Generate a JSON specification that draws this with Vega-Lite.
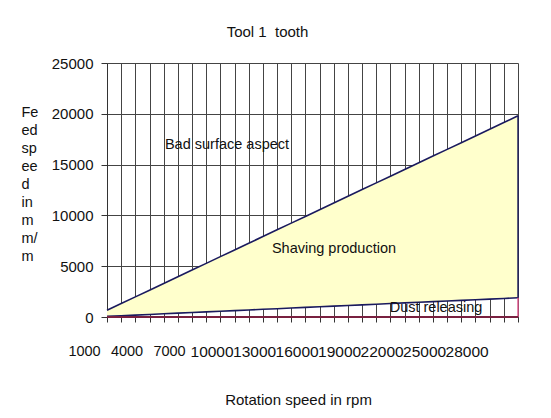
{
  "$schema": "https://vega.github.io/schema/vega-lite/v6.json",
  "width": 411,
  "height": 254,
  "autosize": "none",
  "padding": {"left": 107, "top": 63, "right": 33, "bottom": 101},
  "background": "white",
  "config": {
    "font": "Liberation Sans",
    "view": {"stroke": null},
    "axis": {"labelColor": "#111", "titleColor": "#111", "titleFontWeight": "normal", "gridColor": "#444", "gridOpacity": 1, "gridWidth": 1, "domainColor": "#333", "tickColor": "#333"}
  },
  "title": {"text": "Tool 1\u00a0 tooth", "fontSize": 15, "fontWeight": "normal", "color": "#111", "anchor": "middle", "dx": -45, "offset": 16, "frame": "group"},
  "datasets": {
    "feed": [
      {"rpm": 1000, "lower": 63, "upper": 660},
      {"rpm": 2000, "lower": 126, "upper": 1320},
      {"rpm": 3000, "lower": 189, "upper": 1980},
      {"rpm": 4000, "lower": 252, "upper": 2640},
      {"rpm": 5000, "lower": 315, "upper": 3300},
      {"rpm": 6000, "lower": 378, "upper": 3960},
      {"rpm": 7000, "lower": 441, "upper": 4620},
      {"rpm": 8000, "lower": 504, "upper": 5280},
      {"rpm": 9000, "lower": 567, "upper": 5940},
      {"rpm": 10000, "lower": 630, "upper": 6600},
      {"rpm": 11000, "lower": 693, "upper": 7260},
      {"rpm": 12000, "lower": 756, "upper": 7920},
      {"rpm": 13000, "lower": 819, "upper": 8580},
      {"rpm": 14000, "lower": 882, "upper": 9240},
      {"rpm": 15000, "lower": 945, "upper": 9900},
      {"rpm": 16000, "lower": 1008, "upper": 10560},
      {"rpm": 17000, "lower": 1071, "upper": 11220},
      {"rpm": 18000, "lower": 1134, "upper": 11880},
      {"rpm": 19000, "lower": 1197, "upper": 12540},
      {"rpm": 20000, "lower": 1260, "upper": 13200},
      {"rpm": 21000, "lower": 1323, "upper": 13860},
      {"rpm": 22000, "lower": 1386, "upper": 14520},
      {"rpm": 23000, "lower": 1449, "upper": 15180},
      {"rpm": 24000, "lower": 1512, "upper": 15840},
      {"rpm": 25000, "lower": 1575, "upper": 16500},
      {"rpm": 26000, "lower": 1638, "upper": 17160},
      {"rpm": 27000, "lower": 1701, "upper": 17820},
      {"rpm": 28000, "lower": 1764, "upper": 18480},
      {"rpm": 29000, "lower": 1827, "upper": 19140},
      {"rpm": 30000, "lower": 1890, "upper": 19800}
    ],
    "notes": [
      {"label": "Bad surface aspect", "rpm": 9467, "feed": 16929},
      {"label": "Shaving production", "rpm": 17017, "feed": 6693},
      {"label": "Dust releasing", "rpm": 24214, "feed": 886}
    ]
  },
  "data": {"name": "feed"},
  "encoding": {
    "x": {
      "field": "rpm", "type": "quantitative",
      "scale": {"domain": [1000, 30000], "nice": false, "zero": false},
      "axis": {
        "values": [1000,2000,3000,4000,5000,6000,7000,8000,9000,10000,11000,12000,13000,14000,15000,16000,17000,18000,19000,20000,21000,22000,23000,24000,25000,26000,27000,28000,29000,30000],
        "labelExpr": "((datum.value - 1000) % 3000 === 0 && datum.value <= 28000) ? format(datum.value, 'd') : ''",
        "labelOverlap": false, "labelBound": false, "labelFlush": false,
        "labelFontSize": {"condition": {"test": "datum.value >= 10000", "value": 15.5}, "value": 14.5},
        "labelOffset": -23, "labelPadding": 22, "tickSize": 5,
        "grid": true,
        "title": "Rotation speed in rpm", "titleFontSize": 15,
        "titleX": 191, "titleY": 82, "titleAlign": "center", "titleBaseline": "middle", "titleAnchor": null
      }
    },
    "y": {
      "field": "lower", "type": "quantitative",
      "scale": {"domain": [0, 25000], "nice": false},
      "axis": {
        "values": [0, 5000, 10000, 15000, 20000, 25000],
        "format": "d",
        "labelFontSize": 15, "tickSize": 6, "labelPadding": 8,
        "grid": true,
        "title": ["Fe", "ed", "sp", "ee", "d", "in", "m", "m/", "m"],
        "titleFontSize": 14.5, "titleAngle": 0, "titleAlign": "left", "titleBaseline": "top",
        "titleLineHeight": 18.1, "titleX": -86, "titleY": 42
      }
    }
  },
  "layer": [
    {
      "mark": {"type": "area", "color": "#FFFFCC", "opacity": 1},
      "encoding": {"y2": {"field": "upper"}}
    },
    {
      "mark": {"type": "line", "color": "#1a1a5e", "strokeWidth": 1.6},
      "encoding": {"y": {"field": "upper", "type": "quantitative"}}
    },
    {
      "mark": {"type": "line", "color": "#1a1a5e", "strokeWidth": 1.6}
    },
    {
      "transform": [{"filter": "datum.rpm === 30000"}],
      "mark": {"type": "rule", "color": "#1a1a5e", "strokeWidth": 1.4},
      "encoding": {"y2": {"field": "upper"}}
    },
    {
      "transform": [{"filter": "datum.rpm === 30000"}],
      "mark": {"type": "rule", "color": "#e0508a", "strokeWidth": 1.4},
      "encoding": {"y": {"datum": 0}, "y2": {"field": "lower"}}
    },
    {
      "mark": {"type": "rule", "color": "#7a2040", "strokeWidth": 1.4},
      "encoding": {"x": {"datum": 1000}, "x2": {"datum": 30000}, "y": {"datum": 0}}
    },
    {
      "data": {"name": "notes"},
      "mark": {"type": "text", "fontSize": 14.5, "color": "#111", "align": "center", "baseline": "middle"},
      "encoding": {
        "x": {"field": "rpm", "type": "quantitative"},
        "y": {"field": "feed", "type": "quantitative"},
        "text": {"field": "label"}
      }
    }
  ]
}
